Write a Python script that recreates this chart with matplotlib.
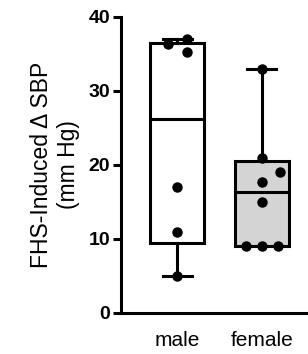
import numpy as np
import matplotlib.pyplot as plt

plt.rcParams['font.family'] = ['Liberation Sans', 'DejaVu Sans']

# data
groups = ['male', 'female']
male = [5, 11, 17, 35.3, 36.4, 37]
female = [9, 9, 9, 15, 17.7, 19, 21, 33]
box_colors = ['white', '#d4d4d4']

# horizontal scatter offsets of the dots (as drawn)
male_dx = [0, 0, 0, 0.12, -0.11, 0.12]
female_dx = [-0.19, 0, 0.19, 0, 0, 0.22, 0, 0]


def box_stats(vals, label):
    # quartiles the (n+1)p way, whiskers min to max
    q1, med, q3 = np.percentile(vals, [25, 50, 75], method='weibull')
    return dict(label=label, med=med, q1=q1, q3=q3,
                whislo=min(vals), whishi=max(vals), fliers=[])


fig = plt.figure(figsize=(3.08, 3.54), dpi=100)
ax = fig.add_axes([0.393, 0.116, 0.600, 0.836])

lw = 2.2
stats = [box_stats(male, groups[0]), box_stats(female, groups[1])]
bp = ax.bxp(stats, positions=[1, 2], widths=0.64, patch_artist=True,
            showfliers=False,
            boxprops=dict(linewidth=lw, edgecolor='black'),
            medianprops=dict(color='black', linewidth=lw),
            whiskerprops=dict(color='black', linewidth=lw),
            capprops=dict(color='black', linewidth=lw),
            capwidths=0.35)
for patch, c in zip(bp['boxes'], box_colors):
    patch.set_facecolor(c)
# no cap where the whisker has zero length
for i, s in enumerate(stats):
    if s['whislo'] >= s['q1']:
        bp['caps'][2 * i].set_visible(False)

for pos, vals, dx in [(1, male, male_dx), (2, female, female_dx)]:
    ax.plot([pos + d for d in dx], vals, 'o', color='black', markersize=6.5,
            zorder=5, clip_on=False)

ax.set_ylim(0, 40)
ax.set_xlim(0.333, 2.524)
ax.set_yticks([0, 10, 20, 30, 40])
ax.set_xticks([1, 2])
ax.set_xticklabels(groups, fontsize=15)
for lab in ax.get_yticklabels():
    lab.set_fontweight('bold')
    lab.set_fontsize(14)

ax.spines['top'].set_visible(False)
ax.spines['right'].set_visible(False)
ax.spines['left'].set_linewidth(2.2)
ax.spines['bottom'].set_linewidth(2.2)
ax.tick_params(axis='y', length=6, width=2.2, pad=2)
ax.tick_params(axis='x', length=0, pad=13)

ax.set_ylabel('FHS-Induced \u0394 SBP\n(mm Hg)', fontsize=16.5, labelpad=6)

fig.savefig('out.png', dpi=100)
